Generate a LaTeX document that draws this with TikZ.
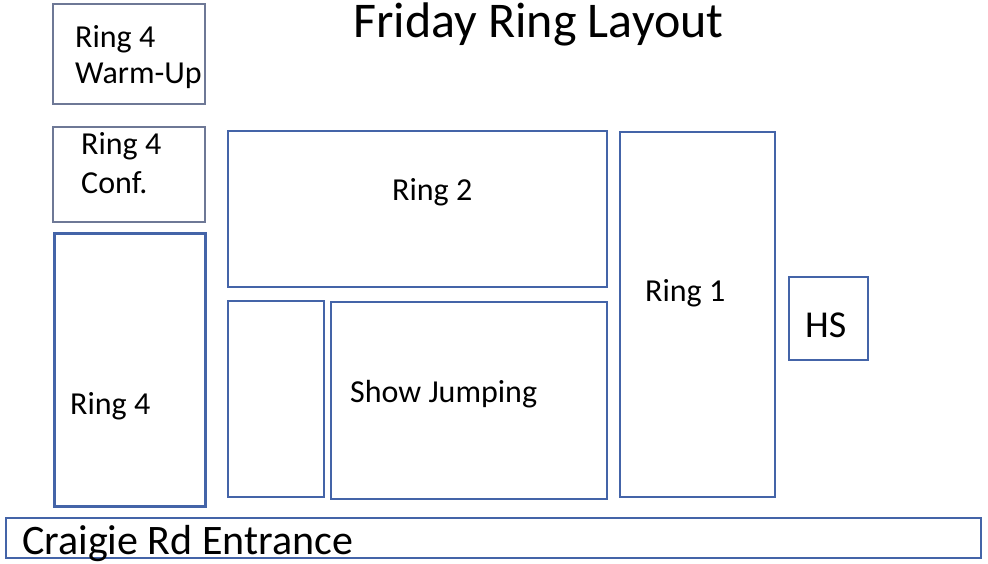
\documentclass[tikz,border=0pt]{standalone}
\usepackage{fontspec}
\setmainfont{Carlito}
\usepackage{tikz}

\definecolor{ringblue}{RGB}{68,100,168}
\definecolor{ringgrey}{RGB}{110,120,150}

\begin{document}
\begin{tikzpicture}[
    x=1pt, y=-1pt,
    ring/.style  = {draw=ringblue, line width=1.5pt},
    side/.style  = {draw=ringgrey, line width=1.5pt},
    label/.style = {anchor=base west, inner sep=0pt, align=left,
                    font=\fontsize{32}{36}\selectfont},
    big/.style   = {anchor=base west, inner sep=0pt,
                    font=\fontsize{42}{46}\selectfont}
  ]
    \useasboundingbox (0,0) rectangle (988,563);

    %% ---- title ----
    \node[anchor=base west, inner sep=0pt, font=\fontsize{50}{54}\selectfont]
      (title) at (353,37) {Friday Ring Layout};

    %% ---- Ring 4 column ----
    \draw[side] (53,4) rectangle (205,104);
    \node[label] (warmup) at (75,83) {Ring 4\\Warm-Up};

    \draw[side] (53,127) rectangle (205,222);
    \node[label, font=\fontsize{32}{39}\selectfont] (conf) at (81,193) {Ring 4\\Conf.};

    \draw[ring, line width=3pt] (54,233) rectangle (205,506);
    \node[label] (ring4) at (70,414) {Ring 4};

    %% ---- middle rings ----
    \draw[ring] (228,131) rectangle (607,287);
    \node[label] (ring2) at (392,200) {Ring 2};

    \draw[ring, line width=2pt] (228,301) rectangle (324,497);

    \draw[ring, line width=2pt] (331,302) rectangle (607,499);
    \node[label] (jumping) at (350,402) {Show Jumping};

    \draw[ring] (620,132) rectangle (775,497);
    \node[label] (ring1) at (645,301) {Ring 1};

    %% ---- HS and entrance ----
    \draw[ring] (789,277) rectangle (868,360);
    \node[big, font=\fontsize{38}{42}\selectfont] (hs) at (805,337) {HS};

    \draw[ring] (6,518) rectangle (981,558);
    \node[big] (entrance) at (22,554) {Craigie Rd Entrance};
  \end{tikzpicture}
\end{document}
